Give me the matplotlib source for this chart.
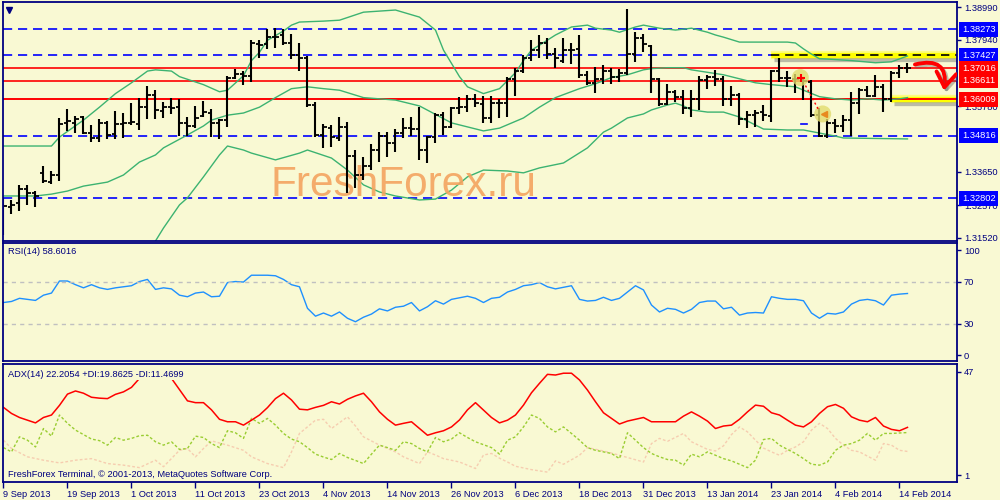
import matplotlib.pyplot as plt
import matplotlib.patheffects as pe
import matplotlib.transforms as mtransforms
from matplotlib.patches import FancyArrowPatch
import numpy as np

plt.rcParams['font.family'] = ['Liberation Sans', 'DejaVu Sans']

# ---- data (EURUSD daily, 9 Sep 2013 .. 17 Feb 2014) ----
opens = [1.3209, 1.3251, 1.3264, 1.3310, 1.3297, 1.3362, 1.3332, 1.3355, 1.3524, 1.3524,
         1.3543, 1.3491, 1.3475, 1.3524, 1.3488, 1.3520, 1.3524, 1.3520, 1.3575, 1.3615,
         1.3562, 1.3575, 1.3575, 1.3524, 1.3514, 1.3546, 1.3556, 1.3524, 1.3533, 1.3671,
         1.3684, 1.3677, 1.3779, 1.3779, 1.3802, 1.3809, 1.3783, 1.3744, 1.3735, 1.3582,
         1.3485, 1.3507, 1.3475, 1.3511, 1.3417, 1.3355, 1.3384, 1.3436, 1.3481, 1.3459,
         1.3491, 1.3507, 1.3504, 1.3436, 1.3478, 1.3549, 1.3511, 1.3572, 1.3575, 1.3602,
         1.3585, 1.3540, 1.3588, 1.3588, 1.3667, 1.3693, 1.3735, 1.3760, 1.3783, 1.3748,
         1.3726, 1.3760, 1.3764, 1.3680, 1.3654, 1.3667, 1.3692, 1.3674, 1.3687, 1.3747,
         1.3799, 1.3773, 1.3667, 1.3585, 1.3625, 1.3609, 1.3572, 1.3602, 1.3664, 1.3674,
         1.3667, 1.3602, 1.3615, 1.3536, 1.3549, 1.3559, 1.3546, 1.3693, 1.3671, 1.3667,
         1.3661, 1.3658, 1.3549, 1.3481, 1.3524, 1.3514, 1.3533, 1.3588, 1.3632, 1.3612,
         1.3641, 1.3602, 1.3687, 1.3703]
highs = [1.3281, 1.3274, 1.3323, 1.3323, 1.3303, 1.3384, 1.3368, 1.3540, 1.3569, 1.3546,
         1.3546, 1.3517, 1.3536, 1.3530, 1.3562, 1.3556, 1.3588, 1.3605, 1.3645, 1.3630,
         1.3592, 1.3606, 1.3602, 1.3543, 1.3579, 1.3595, 1.3569, 1.3536, 1.3677, 1.3700,
         1.3692, 1.3792, 1.3792, 1.3828, 1.3831, 1.3828, 1.3812, 1.3783, 1.3741, 1.3592,
         1.3520, 1.3517, 1.3543, 1.3527, 1.3436, 1.3413, 1.3455, 1.3494, 1.3494, 1.3504,
         1.3540, 1.3543, 1.3575, 1.3481, 1.3556, 1.3559, 1.3575, 1.3609, 1.3615, 1.3619,
         1.3612, 1.3612, 1.3602, 1.3674, 1.3703, 1.3744, 1.3792, 1.3809, 1.3799, 1.3768,
         1.3799, 1.3783, 1.3809, 1.3692, 1.3706, 1.3713, 1.3703, 1.3700, 1.3893, 1.3818,
         1.3812, 1.3776, 1.3671, 1.3651, 1.3632, 1.3632, 1.3632, 1.3677, 1.3680, 1.3696,
         1.3677, 1.3645, 1.3622, 1.3562, 1.3566, 1.3582, 1.3696, 1.3735, 1.3693, 1.3684,
         1.3667, 1.3664, 1.3572, 1.3536, 1.3536, 1.3549, 1.3625, 1.3638, 1.3645, 1.3680,
         1.3651, 1.3692, 1.3711, 1.3719]
lows = [1.3161, 1.3229, 1.3238, 1.3258, 1.3251, 1.3329, 1.3326, 1.3336, 1.3498, 1.3491,
        1.3488, 1.3462, 1.3462, 1.3472, 1.3472, 1.3475, 1.3517, 1.3501, 1.3536, 1.3536,
        1.3540, 1.3553, 1.3481, 1.3481, 1.3507, 1.3543, 1.3478, 1.3472, 1.3511, 1.3667,
        1.3648, 1.3658, 1.3735, 1.3764, 1.3768, 1.3776, 1.3732, 1.3693, 1.3575, 1.3478,
        1.3443, 1.3446, 1.3465, 1.3297, 1.3313, 1.3339, 1.3371, 1.3397, 1.3413, 1.3430,
        1.3475, 1.3481, 1.3404, 1.3394, 1.3459, 1.3485, 1.3507, 1.3553, 1.3559, 1.3575,
        1.3524, 1.3524, 1.3540, 1.3543, 1.3612, 1.3687, 1.3726, 1.3735, 1.3732, 1.3703,
        1.3719, 1.3716, 1.3671, 1.3648, 1.3622, 1.3651, 1.3651, 1.3658, 1.3680, 1.3722,
        1.3755, 1.3622, 1.3579, 1.3582, 1.3592, 1.3553, 1.3543, 1.3566, 1.3635, 1.3645,
        1.3579, 1.3579, 1.3517, 1.3507, 1.3511, 1.3530, 1.3527, 1.3658, 1.3641, 1.3622,
        1.3599, 1.3543, 1.3478, 1.3475, 1.3491, 1.3494, 1.3481, 1.3553, 1.3609, 1.3609,
        1.3559, 1.3592, 1.3671, 1.3687]
closes = [1.3255, 1.3258, 1.3310, 1.3297, 1.3287, 1.3336, 1.3355, 1.3520, 1.3530, 1.3536,
          1.3491, 1.3475, 1.3524, 1.3485, 1.3520, 1.3524, 1.3527, 1.3575, 1.3615, 1.3566,
          1.3575, 1.3572, 1.3524, 1.3514, 1.3540, 1.3559, 1.3524, 1.3533, 1.3671, 1.3684,
          1.3677, 1.3783, 1.3776, 1.3802, 1.3802, 1.3783, 1.3744, 1.3735, 1.3582, 1.3485,
          1.3511, 1.3478, 1.3511, 1.3417, 1.3355, 1.3384, 1.3436, 1.3481, 1.3459, 1.3491,
          1.3507, 1.3504, 1.3436, 1.3478, 1.3549, 1.3511, 1.3572, 1.3575, 1.3602, 1.3588,
          1.3540, 1.3588, 1.3588, 1.3667, 1.3693, 1.3735, 1.3760, 1.3783, 1.3748, 1.3735,
          1.3760, 1.3760, 1.3680, 1.3654, 1.3667, 1.3692, 1.3674, 1.3687, 1.3747, 1.3799,
          1.3779, 1.3667, 1.3585, 1.3625, 1.3609, 1.3572, 1.3602, 1.3664, 1.3674, 1.3667,
          1.3602, 1.3615, 1.3536, 1.3549, 1.3556, 1.3549, 1.3693, 1.3671, 1.3671, 1.3667,
          1.3661, 1.3549, 1.3481, 1.3524, 1.3514, 1.3533, 1.3588, 1.3632, 1.3612, 1.3641,
          1.3602, 1.3687, 1.3703, 1.3703]

# Bollinger bands, read at selected bars
upper_idx = [0, 6, 7, 10, 12, 14, 16, 18, 19, 21, 22, 25, 27, 28, 30, 31, 32, 33, 35, 36,
             37, 40, 42, 45, 49, 52, 54, 55, 57, 58, 60, 62, 64, 65, 66, 67, 69, 71, 73, 74,
             76, 77, 79, 80, 82, 84, 86, 88, 89, 90, 92, 98, 99, 100, 101, 102, 103, 106, 109, 111,
             113]
upper_val = [1.3449, 1.3449, 1.3478, 1.3533, 1.3575, 1.3619, 1.3654, 1.3692, 1.3696, 1.3692,
             1.3674, 1.3648, 1.3625, 1.3630, 1.3677, 1.3726, 1.3753, 1.3792, 1.3822, 1.3841,
             1.3851, 1.3854, 1.3857, 1.3883, 1.3890, 1.3867, 1.3825, 1.3760, 1.3674, 1.3641,
             1.3619, 1.3635, 1.3687, 1.3726, 1.3760, 1.3776, 1.3809, 1.3835, 1.3841, 1.3831,
             1.3825, 1.3818, 1.3835, 1.3841, 1.3831, 1.3825, 1.3831, 1.3818, 1.3809, 1.3802,
             1.3786, 1.3786, 1.3783, 1.3764, 1.3747, 1.3732, 1.3731, 1.3726, 1.3719, 1.3722,
             1.3741]
mid_idx = [0, 4, 6, 8, 10, 13, 15, 17, 19, 20, 23, 25, 26, 28, 30, 32, 34, 36, 38, 40,
           42, 45, 49, 52, 56, 60, 62, 65, 67, 69, 72, 74, 76, 78, 80, 81, 83, 85, 86, 87,
           89, 90, 92, 94, 96, 99, 100, 102, 104, 106, 108, 110, 112, 113]
mid_val = [1.3287, 1.3287, 1.3293, 1.3303, 1.3319, 1.3332, 1.3355, 1.3397, 1.3420, 1.3443,
           1.3485, 1.3514, 1.3533, 1.3549, 1.3556, 1.3575, 1.3606, 1.3635, 1.3641, 1.3635,
           1.3630, 1.3606, 1.3598, 1.3579, 1.3524, 1.3498, 1.3507, 1.3540, 1.3575, 1.3606,
           1.3635, 1.3651, 1.3671, 1.3680, 1.3696, 1.3700, 1.3703, 1.3703, 1.3696, 1.3692,
           1.3684, 1.3680, 1.3667, 1.3654, 1.3648, 1.3641, 1.3630, 1.3609, 1.3602, 1.3598,
           1.3602, 1.3598, 1.3602, 1.3606]
low_idx = [19, 20, 22, 23, 25, 27, 28, 30, 31, 34, 37, 38, 41, 43, 45, 47, 49, 52, 54, 56,
           58, 60, 63, 65, 67, 70, 73, 75, 76, 78, 80, 81, 83, 84, 85, 86, 88, 90, 92, 94,
           95, 98, 100, 102, 104, 105, 113]
low_val = [1.3141, 1.3183, 1.3258, 1.3281, 1.3349, 1.3420, 1.3449, 1.3436, 1.3426, 1.3404,
           1.3426, 1.3436, 1.3410, 1.3371, 1.3323, 1.3300, 1.3287, 1.3274, 1.3277, 1.3306,
           1.3349, 1.3371, 1.3368, 1.3362, 1.3378, 1.3394, 1.3443, 1.3494, 1.3507, 1.3540,
           1.3553, 1.3566, 1.3582, 1.3588, 1.3579, 1.3566, 1.3559, 1.3559, 1.3543, 1.3517,
           1.3504, 1.3501, 1.3501, 1.3491, 1.3481, 1.3475, 1.3472]

rsi = [50, 51, 54, 53, 52, 57, 59, 70.5, 70.5, 67,
       64, 67, 64, 62.5, 64, 65, 66, 70, 72, 62.5,
       64, 63, 57, 55.5, 59, 60, 55.5, 56, 69, 70,
       69.5, 76, 76, 76, 75.5, 72, 67, 65, 44.5, 37,
       40, 37, 41, 35, 31.7, 36, 39, 44, 42, 45.5,
       46.5, 50, 42, 46, 51.7, 48.5, 53, 54.5, 56, 54,
       50, 54, 55, 60, 62.5, 66, 67, 69, 65, 63,
       64.5, 66, 53, 51.4, 52, 55, 52, 54, 60, 66,
       62, 47.6, 41, 44.5, 43.5, 40, 43.5, 50, 51.4, 51.4,
       44, 45.5, 38, 40, 40.5, 40, 55.5, 54, 53, 53,
       51.7, 40, 35, 39.7, 39, 41, 48.5, 52, 53, 51.7,
       47.6, 57, 58, 58.6]

adx = [31.1, 28.4, 26.6, 25.4, 24.2, 26.6, 27.7, 32, 37, 38.4,
       37.4, 35.6, 35.2, 35, 36.9, 38, 40, 44, 46.5, 47,
       46.5, 44, 39, 34, 33.2, 33.2, 30, 25.8, 24.7, 24.7,
       23.2, 25.4, 27.7, 31, 35, 37.4, 34.4, 30.3, 30, 31.1,
       32, 33.6, 32.6, 34.7, 36.2, 37.4, 33.6, 29.1, 25.8, 23.2,
       24, 24.7, 21.7, 18.7, 19.8, 20.7, 22.4, 25.5, 30, 33.2,
       29.9, 26.6, 24.2, 25.4, 27.7, 32.1, 37.6, 41.8, 45.8, 45.5,
       46.3, 46.3, 43.3, 38.8, 33.6, 28.7, 26.2, 23.7, 25, 25.8,
       26.6, 24.7, 24.7, 24.7, 24.7, 27.2, 29.1, 27.2, 25, 21.7,
       22.8, 23.2, 25.8, 29.1, 32.1, 31.6, 28.7, 27.7, 25.4, 23.2,
       22.4, 24.7, 28.4, 31.4, 32.4, 30.7, 26.9, 25.4, 24.7, 26.6,
       22.8, 21.3, 20.7, 22.2]
plus_di = [13.2, 11.3, 18, 16.5, 13.5, 21.7, 18.3, 27.7, 24, 21,
           19, 17, 16.3, 14.3, 17.7, 16.5, 17.3, 18.5, 18.7, 15.8,
           14.3, 15.8, 12.4, 12.8, 18.3, 17.7, 15, 13.2, 20.7, 19.8,
           17.3, 26.2, 24, 26.2, 23.2, 19.5, 17, 15.8, 13.2, 10.3,
           9, 7.9, 10.6, 8.8, 7.5, 6.1, 10.3, 14.3, 13.2, 12,
           15.8, 15, 12.8, 11.3, 17.7, 15.8, 17, 19.8, 17.7, 15.8,
           14.5, 13.2, 10.3, 16.5, 18, 22.4, 27.7, 26.2, 22.4, 20.2,
           22.4, 19.5, 16.5, 13.2, 12, 11.3, 10.6, 8.3, 19.8, 16.5,
           13.2, 10.6, 9.1, 7.9, 7.6, 5.4, 10.3, 9.1, 11.3, 9.8,
           8.3, 7.3, 5.8, 4.3, 7.6, 16.8, 17.3, 14.3, 12.4, 10.6,
           8.3, 5.8, 5.4, 6.8, 12, 14.3, 15, 16.5, 19.5, 16.5,
           19.5, 19.5, 19.7, 19.9]
minus_idx = [0, 1, 3, 5, 7, 9, 11, 13, 15, 17, 19, 20, 22, 23, 24, 25, 26, 28, 30, 31,
             33, 35, 36, 37, 39, 40, 41, 43, 44, 45, 47, 49, 50, 52, 53, 54, 55, 57, 59, 60,
             61, 62, 63, 64, 66, 68, 69, 70, 72, 73, 75, 77, 78, 80, 81, 82, 83, 85, 86, 88,
             89, 90, 91, 92, 93, 94, 95, 96, 97, 98, 99, 100, 101, 102, 103, 104, 105, 106, 107, 108,
             109, 110, 111, 112, 113]
minus_di = [16.5, 12.8, 9.1, 7.6, 6.4, 7.6, 8.3, 6.1, 5.4, 4.3, 7.6, 4.7, 12, 12.8, 9.1, 12.8, 16.2, 14.3, 12, 9.1,
            6.1, 4.3, 11.3, 19.5, 25.4, 25.8, 21.7, 26.9, 22.8, 18, 14.3, 11.3, 9.1, 6.1, 11.3, 9.9, 8.3, 6.8, 3.9, 9.9,
            10.6, 8.5, 6.8, 4.9, 3.4, 2.3, 7.3, 5.8, 9.8, 13.2, 11.7, 9.8, 8.8, 6.8, 15, 17.3, 16, 19.5, 15.8, 12.4,
            11.7, 14, 19, 22.4, 20.2, 16.5, 13, 11.3, 9.8, 12, 13.5, 15.8, 21, 24, 21.7, 17.3, 14.3, 12, 11.3, 9.4,
            7.6, 15, 14.3, 12, 11.5]

date_labels = ['9 Sep 2013', '19 Sep 2013', '1 Oct 2013', '11 Oct 2013', '23 Oct 2013',
               '4 Nov 2013', '14 Nov 2013', '26 Nov 2013', '6 Dec 2013', '18 Dec 2013',
               '31 Dec 2013', '13 Jan 2014', '23 Jan 2014', '4 Feb 2014', '14 Feb 2014']

blue_levels = [1.38273, 1.37427, 1.34816, 1.32802]
red_levels = [1.37016, 1.36611, 1.36009]
price_ticks = [1.38990, 1.37940, 1.35780, 1.33650, 1.32570, 1.31520]
yellow_levels = [1.37427, 1.36009]
yellow_start = [96, 111]

# analyst marks
circle_x = [99.6, 102.4]
circle_y = [1.3671, 1.3553]
arrow_from = (113.6, 1.3711)
arrow_to = (117.5, 1.3620)

BG = '#F9F9D3'
NAVY = '#000080'
FS = 6.7
XMIN, XMAX = -0.06, 119.19

fig = plt.figure(figsize=(10, 5), dpi=100, facecolor=BG)
ax = fig.add_axes([0.003, 0.518, 0.954, 0.478])
ax_rsi = fig.add_axes([0.003, 0.278, 0.954, 0.236])
ax_adx = fig.add_axes([0.003, 0.036, 0.954, 0.236])

for a in (ax, ax_rsi, ax_adx):
    a.set_facecolor(BG)
    a.set_xlim(XMIN, XMAX)
    for s in a.spines.values():
        s.set_color(NAVY)
        s.set_linewidth(1.3)
    a.yaxis.tick_right()
    a.tick_params(axis='y', direction='out', length=3, width=1, color=NAVY,
                  labelcolor=NAVY, labelsize=FS, pad=2)
ax.tick_params(axis='x', bottom=False, labelbottom=False)
ax_rsi.tick_params(axis='x', bottom=False, labelbottom=False)

# ---- main price panel ----
x = np.arange(len(closes))
ax.set_ylim(1.3141, 1.3916)
ax.set_yticks(price_ticks)
ax.set_yticklabels(['%.5f' % v for v in price_ticks])

for lv in blue_levels:
    ax.axhline(lv, color='#0000FF', lw=1.2, ls=(0, (5.5, 3.5)), zorder=1)
for lv in red_levels:
    ax.axhline(lv, color='#FF0000', lw=1.2, zorder=1.2)

shadow = [pe.SimpleLineShadow(offset=(1.5, -2.5), shadow_color='#707070', alpha=0.45), pe.Normal()]
for lv, x0 in zip(yellow_levels, yellow_start):
    ax.plot([x0, XMAX], [lv, lv], color='#FFFF40', lw=6, alpha=0.55, solid_capstyle='butt', zorder=1.1)
    ax.plot([x0, XMAX], [lv, lv], color='#FFFF00', lw=3.8, solid_capstyle='butt',
            path_effects=shadow, zorder=1.1)
ax.plot([yellow_start[0], XMAX], [yellow_levels[0]] * 2, color='black', lw=1.2,
        ls=(0, (5, 3.5)), zorder=1.3)
ax.axhline(red_levels[2], color='#FF0000', lw=1.2, zorder=1.3)

band_color = '#3CB371'
ax.plot(upper_idx, upper_val, color=band_color, lw=1, zorder=1.5)
ax.plot(mid_idx, mid_val, color=band_color, lw=1, zorder=1.5)
ax.plot(low_idx, low_val, color=band_color, lw=1, zorder=1.5)

ax.vlines(x, lows, highs, color='black', lw=1.5, zorder=2)
ax.hlines(opens, x - 0.42, x, color='black', lw=1.3, zorder=2)
ax.hlines(closes, x, x + 0.42, color='black', lw=1.3, zorder=2)

ax.text(0.28, 0.19, 'FreshForex.ru', transform=ax.transAxes, fontsize=30.5,
        color='#F4A460', alpha=0.9, va='baseline', ha='left',
        family=['Liberation Sans', 'DejaVu Sans'], zorder=1.8)

# analyst marks
ax.scatter(circle_x, circle_y, s=150, color='#E2DC6E', alpha=0.8, edgecolors='none', zorder=3)
ax.plot([100.25, 101.9], [1.3645, 1.3566], color='#FF0000', lw=1, ls=(0, (1.5, 2)), zorder=3.1)
ax.plot([circle_x[0] + 0.1], [circle_y[0] - 0.0003], marker='+', color='#FF0000', ms=6, mew=1.5, zorder=3.2)
ax.plot([circle_x[1] + 0.2], [circle_y[1]], marker='<', color='#E88A20', ms=4.5, zorder=3.2)
ax.plot([99.7, 100.5], [1.3520, 1.3520], color='#0000FF', lw=1.2, zorder=3)

arrow = FancyArrowPatch(arrow_from, arrow_to, connectionstyle='arc3,rad=-0.8',
                        arrowstyle='->,head_length=0.8,head_width=0.55', mutation_scale=13,
                        color='#FF0000', lw=2.8, zorder=4,
                        path_effects=[pe.SimpleLineShadow(offset=(1.5, -1.5), shadow_color='#606060', alpha=0.4),
                                      pe.Normal()])
ax.add_patch(arrow)

ax.plot([0.006], [0.966], marker='v', ms=4, color=NAVY, transform=ax.transAxes, clip_on=False)

# level boxes on the price scale
trans = mtransforms.blended_transform_factory(ax.transAxes, ax.transData)
for lv in blue_levels + red_levels:
    fc = '#0000FF' if lv in blue_levels else '#FF0000'
    ax.text(1.005, lv, '%.5f' % lv, transform=trans, fontsize=FS, color='white',
            va='center', ha='left', clip_on=False, zorder=10,
            bbox=dict(boxstyle='square,pad=0.32', fc=fc, ec='none'))

# ---- RSI panel ----
ax_rsi.set_ylim(-5.7, 106.7)
ax_rsi.plot(x, rsi, color='#1E90FF', lw=1)
for lv in (70, 30):
    ax_rsi.axhline(lv, color='#C0C0C0', lw=1, ls=(0, (3, 3)))
ax_rsi.set_yticks([0, 30, 70, 100])
ax_rsi.text(0.005, 0.924, 'RSI(14) 58.6016', transform=ax_rsi.transAxes, fontsize=FS,
            color=NAVY, va='center', ha='left')

# ---- ADX panel ----
ax_adx.set_ylim(-2.1, 50.4)
ax_adx.plot(minus_idx, minus_di, color='#F6CDB0', lw=1, ls=(0, (2, 1.5)))
ax_adx.plot(x, plus_di, color='#9ACD32', lw=1, ls=(0, (2, 1.5)))
ax_adx.plot(x, adx, color='#FF0000', lw=1.1)
ax_adx.set_yticks([1, 47])
ax_adx.text(0.005, 0.915, 'ADX(14) 22.2054 +DI:19.8625 -DI:11.4699', transform=ax_adx.transAxes,
            fontsize=FS, color=NAVY, va='center', ha='left', zorder=5,
            bbox=dict(boxstyle='square,pad=0.15', fc=BG, ec='none'))
ax_adx.text(0.005, 0.06, 'FreshForex Terminal, \u00a9 2001-2013, MetaQuotes Software Corp.',
            transform=ax_adx.transAxes, fontsize=FS, color=NAVY, va='center', ha='left')

ax_adx.set_xticks(np.arange(0, len(closes), 8))
ax_adx.set_xticklabels(date_labels, ha='left')
ax_adx.tick_params(axis='x', direction='out', length=4, width=1, color=NAVY,
                   labelcolor=NAVY, labelsize=FS, pad=2)

fig.savefig('out.png', dpi=100, facecolor=BG)
